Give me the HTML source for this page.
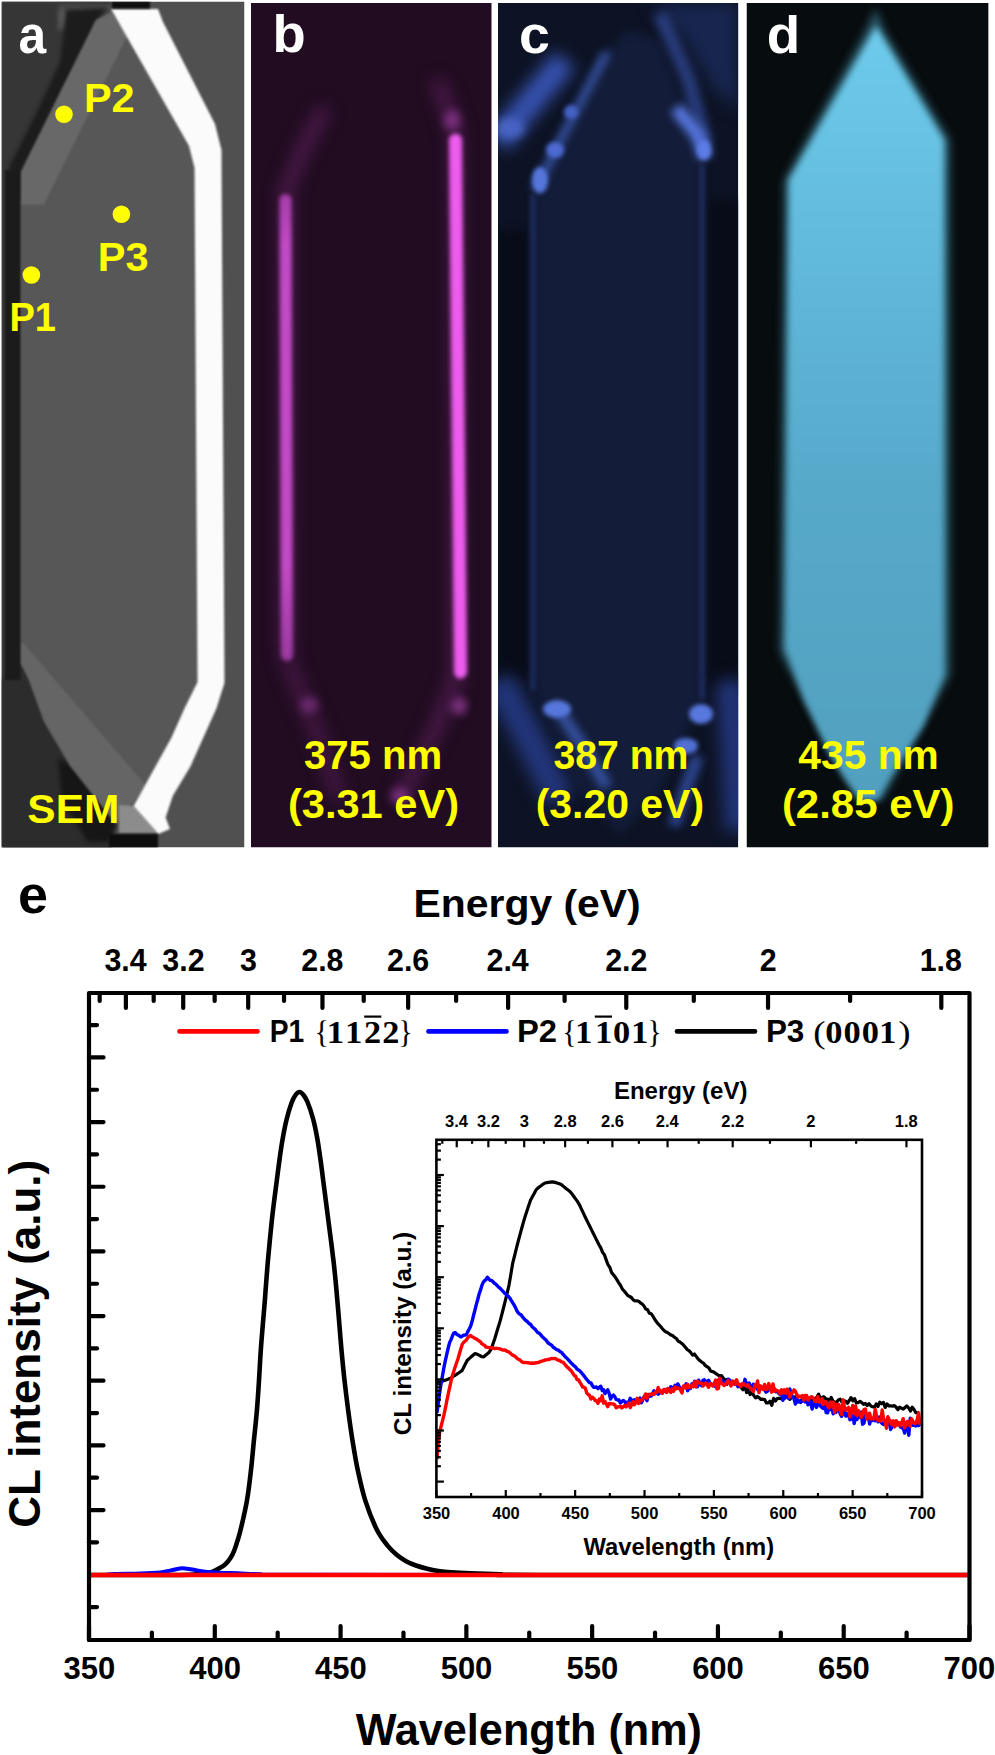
<!DOCTYPE html><html><head><meta charset="utf-8"><style>html,body{margin:0;padding:0;background:#fff;}svg{display:block;}</style></head><body>
<svg width="995" height="1755" viewBox="0 0 995 1755">
<defs>
<filter id="b1" color-interpolation-filters="sRGB" filterUnits="userSpaceOnUse" x="0" y="0" width="995" height="860"><feGaussianBlur stdDeviation="1"/></filter>
<filter id="b2" color-interpolation-filters="sRGB" filterUnits="userSpaceOnUse" x="0" y="0" width="995" height="860"><feGaussianBlur stdDeviation="2"/></filter>
<filter id="b2s" color-interpolation-filters="sRGB" filterUnits="userSpaceOnUse" x="0" y="0" width="995" height="860"><feGaussianBlur stdDeviation="2"/></filter>
<filter id="b3" color-interpolation-filters="sRGB" filterUnits="userSpaceOnUse" x="0" y="0" width="995" height="860"><feGaussianBlur stdDeviation="3"/></filter>
<filter id="b4" color-interpolation-filters="sRGB" filterUnits="userSpaceOnUse" x="0" y="0" width="995" height="860"><feGaussianBlur stdDeviation="4"/></filter>
<filter id="b8" color-interpolation-filters="sRGB" filterUnits="userSpaceOnUse" x="0" y="0" width="995" height="860"><feGaussianBlur stdDeviation="8"/></filter>
<clipPath id="ca"><rect x="1.5" y="1.5" width="243" height="846"/></clipPath>
<clipPath id="cb"><rect x="251" y="3" width="240.7" height="844.5"/></clipPath>
<clipPath id="cc"><rect x="498" y="3" width="240.3" height="844.5"/></clipPath>
<linearGradient id="gd" x1="0" y1="0" x2="0" y2="1"><stop offset="0" stop-color="#6ecbec"/><stop offset="0.3" stop-color="#61b9db"/><stop offset="0.6" stop-color="#57a9ca"/><stop offset="1" stop-color="#52a0c0"/></linearGradient>
<clipPath id="cd"><rect x="746.5" y="3" width="242.1" height="844.5"/></clipPath>
</defs>
<rect width="995" height="1755" fill="#fff"/>
<g clip-path="url(#ca)">
<rect x="1.5" y="1.5" width="243" height="846" fill="#505050"/>
<polygon points="1.5,1.5 112.0,1.5 96.0,20.0 21.0,172.0 21.0,664.0 116.0,824.0 110.0,848.0 1.5,848.0" fill="#363636" filter="url(#b1)"/>
<polygon points="1.5,680.0 21.0,664.0 116.0,824.0 110.0,848.0 1.5,848.0" fill="#2c2c2c" filter="url(#b2)"/>
<polygon points="58.0,4.0 112.0,4.0 110.0,14.0 96.0,22.0 70.0,30.0 58.0,20.0" fill="#4a4a4a" filter="url(#b2)"/>
<polygon points="66.0,10.0 108.0,8.0 96.0,22.0 21.0,172.0 21.0,200.0 8.0,200.0 10.0,165.0 40.0,105.0 60.0,62.0 64.0,30.0" fill="#1c1c1c" filter="url(#b2)"/>
<polyline points="62.0,10.0 60.0,30.0" fill="none" stroke="#5a5a5a" stroke-width="4" filter="url(#b2)"/>
<rect x="5" y="170" width="15.5" height="510" fill="#1b1b1b" filter="url(#b1)"/>
<polygon points="58.0,758.0 72.0,766.0 116.0,824.0 108.0,842.0 88.0,842.0 62.0,800.0" fill="#161616" filter="url(#b2)"/>
<polygon points="128.0,35.0 189.0,146.0 194.5,168.0 197.5,680.0 146.0,785.0 23.0,642.0 21.0,642.0 21.0,205.0 44.0,205.0" fill="#575757" filter="url(#b1)"/>
<polygon points="96.0,20.0 112.0,12.0 128.0,35.0 44.0,205.0 21.0,205.0 21.0,172.0" fill="#686868" filter="url(#b1)"/>
<polygon points="21.0,642.0 23.0,642.0 146.0,785.0 139.0,796.0 116.0,824.0 70.0,766.0 44.0,722.0 28.0,678.0 21.0,664.0" fill="#656565" filter="url(#b1)"/>
<polygon points="119.0,805.0 134.0,806.0 158.0,833.0 119.0,833.0" fill="#8c8c8c" filter="url(#b1)"/>
<polygon points="111.0,9.0 158.0,9.0 163.0,22.0 215.0,124.0 221.5,150.0 224.5,683.0 216.6,708.0 190.4,766.6 172.9,795.7 165.6,817.6 170.0,829.0 158.3,834.0 133.5,806.0 139.3,795.7 171.4,737.4 184.5,708.3 197.5,682.0 194.5,168.0 189.0,146.0" fill="#fbfbfb" filter="url(#b1)"/>
<rect x="112" y="1.5" width="38" height="7" fill="#0e0e0e" filter="url(#b1)"/>
<rect x="109" y="834" width="49" height="14" fill="#0e0e0e" filter="url(#b1)"/>
</g>
<circle cx="64" cy="114.3" r="8.8" fill="#ffff00"/>
<circle cx="121.4" cy="214.3" r="8.8" fill="#ffff00"/>
<circle cx="31.4" cy="275" r="8.8" fill="#ffff00"/>
<text x="18.54" y="52.50" font-family='"Liberation Sans", sans-serif' font-weight="bold" font-size="51" fill="#fff" textLength="27.64" lengthAdjust="spacingAndGlyphs" >a</text>
<text x="83.93" y="112.30" font-family='"Liberation Sans", sans-serif' font-weight="bold" font-size="40" fill="#ffff00" textLength="50.74" lengthAdjust="spacingAndGlyphs" >P2</text>
<text x="97.72" y="271.20" font-family='"Liberation Sans", sans-serif' font-weight="bold" font-size="40" fill="#ffff00" textLength="50.78" lengthAdjust="spacingAndGlyphs" >P3</text>
<text x="9.45" y="331.00" font-family='"Liberation Sans", sans-serif' font-weight="bold" font-size="40" fill="#ffff00" textLength="46.61" lengthAdjust="spacingAndGlyphs" >P1</text>
<text x="27.38" y="823.30" font-family='"Liberation Sans", sans-serif' font-weight="bold" font-size="40" fill="#ffff00" textLength="91.86" lengthAdjust="spacingAndGlyphs" >SEM</text>
<g clip-path="url(#cb)">
<rect x="251" y="3" width="240.7" height="844.5" fill="#210c21"/>
<polyline points="286.0,660.0 286.0,190.0 305.0,145.0 325.0,108.0" fill="none" stroke="#4a1a4a" stroke-width="14" filter="url(#b8)"/>
<polyline points="437.0,80.0 452.0,120.0 456.0,140.0 456.0,680.0 440.0,720.0 400.0,800.0" fill="none" stroke="#4a1a4a" stroke-width="14" filter="url(#b8)"/>
<polyline points="287.0,660.0 320.0,740.0 340.0,800.0" fill="none" stroke="#451845" stroke-width="14" filter="url(#b8)"/>
<linearGradient id="gbl" gradientUnits="userSpaceOnUse" x1="0" y1="190" x2="0" y2="660"><stop offset="0" stop-color="#a43ca8"/><stop offset="0.12" stop-color="#c24ac6"/><stop offset="0.8" stop-color="#c24ac6"/><stop offset="1" stop-color="#9a3aa0"/></linearGradient>
<polyline points="285.5,200.0 287.0,655.0" fill="none" stroke="url(#gbl)" stroke-width="12" stroke-linecap="round" filter="url(#b2s)"/>
<polyline points="455.5,140.0 460.5,672.0" fill="none" stroke="#ee5cee" stroke-width="13" stroke-linecap="round" filter="url(#b2s)"/>
<ellipse cx="309" cy="705" rx="9" ry="8" fill="#6a2a6e" filter="url(#b4)"/>
<ellipse cx="459" cy="706" rx="8" ry="9" fill="#7a307e" filter="url(#b4)"/>
<ellipse cx="400" cy="796" rx="9" ry="8" fill="#7a307e" filter="url(#b4)"/>
<ellipse cx="452" cy="120" rx="8" ry="10" fill="#7a307e" filter="url(#b4)"/>
</g>
<text x="272.42" y="51.70" font-family='"Liberation Sans", sans-serif' font-weight="bold" font-size="51" fill="#fff" textLength="33.21" lengthAdjust="spacingAndGlyphs" >b</text>
<text x="303.88" y="769.00" font-family='"Liberation Sans", sans-serif' font-weight="bold" font-size="40" fill="#ffff00" textLength="138.31" lengthAdjust="spacingAndGlyphs" >375 nm</text>
<text x="287.93" y="818.00" font-family='"Liberation Sans", sans-serif' font-weight="bold" font-size="40" fill="#ffff00" textLength="171.14" lengthAdjust="spacingAndGlyphs" >(3.31 eV)</text>
<g clip-path="url(#cc)">
<rect x="498" y="3" width="240.3" height="844.5" fill="#0d1325"/>
<polygon points="534.0,195.0 600.0,60.0 628.0,30.0 660.0,40.0 702.0,155.0 702.0,700.0 660.0,790.0 620.0,835.0 580.0,790.0 534.0,690.0" fill="#131c38" filter="url(#b4)"/>
<rect x="498" y="230" width="30" height="450" fill="#080c18" filter="url(#b4)"/>
<rect x="709" y="200" width="30" height="490" fill="#080c18" filter="url(#b4)"/>
<polygon points="650.0,3.0 738.0,3.0 738.0,110.0 715.0,90.0 685.0,40.0" fill="#18264f" filter="url(#b8)"/>
<polyline points="533.0,195.0 533.0,690.0" fill="none" stroke="#1c2a58" stroke-width="6" filter="url(#b2s)"/>
<polyline points="702.0,165.0 702.0,700.0" fill="none" stroke="#1c2a58" stroke-width="6" filter="url(#b2s)"/>
<polyline points="498.0,142.0 532.0,100.0 565.0,60.0" fill="none" stroke="#3652b0" stroke-width="26" filter="url(#b8)"/>
<ellipse cx="510" cy="128" rx="14" ry="10" fill="#4864c4" filter="url(#b4)"/>
<polyline points="535.0,190.0 570.0,122.0 607.0,52.0" fill="none" stroke="#34509e" stroke-width="9" filter="url(#b4)"/>
<ellipse cx="540" cy="180" rx="8" ry="13" fill="#5676dc" filter="url(#b2)"/>
<ellipse cx="555" cy="150" rx="9" ry="8" fill="#4c6ad0" filter="url(#b2)"/>
<ellipse cx="571" cy="112" rx="7" ry="7" fill="#4462c4" filter="url(#b2)"/>
<polyline points="660.0,14.0 688.0,78.0 706.0,145.0" fill="none" stroke="#283c7c" stroke-width="14" filter="url(#b4)"/>
<polyline points="676.0,108.0 697.0,134.0 706.0,158.0" fill="none" stroke="#5474da" stroke-width="14" filter="url(#b4)"/>
<ellipse cx="704" cy="150" rx="7" ry="10" fill="#5c7ce6" filter="url(#b2)"/>
<polyline points="498.0,680.0 530.0,740.0 560.0,800.0" fill="none" stroke="#22357a" stroke-width="30" filter="url(#b8)"/>
<polyline points="560.0,712.0 585.0,750.0 607.0,787.0" fill="none" stroke="#34509e" stroke-width="12" filter="url(#b4)"/>
<polyline points="730.0,680.0 735.0,760.0 738.0,830.0" fill="none" stroke="#22357a" stroke-width="26" filter="url(#b8)"/>
<polyline points="698.0,756.0 685.0,790.0 674.0,826.0" fill="none" stroke="#2c4590" stroke-width="12" filter="url(#b4)"/>
<ellipse cx="557" cy="709" rx="14" ry="9" fill="#5676dc" filter="url(#b2)"/>
<ellipse cx="701" cy="714" rx="12" ry="10" fill="#5878e0" filter="url(#b2)"/>
<ellipse cx="686" cy="746" rx="12" ry="8" fill="#5070d4" filter="url(#b2)"/>
</g>
<text x="519.13" y="53.00" font-family='"Liberation Sans", sans-serif' font-weight="bold" font-size="51" fill="#fff" textLength="30.90" lengthAdjust="spacingAndGlyphs" >c</text>
<text x="553.40" y="769.00" font-family='"Liberation Sans", sans-serif' font-weight="bold" font-size="40" fill="#ffff00" textLength="135.03" lengthAdjust="spacingAndGlyphs" >387 nm</text>
<text x="535.66" y="818.00" font-family='"Liberation Sans", sans-serif' font-weight="bold" font-size="40" fill="#ffff00" textLength="168.38" lengthAdjust="spacingAndGlyphs" >(3.20 eV)</text>
<g clip-path="url(#cd)">
<rect x="746.5" y="3" width="242.1" height="844.5" fill="#070c0e"/>
<polygon points="876.0,8.0 884.0,30.0 950.0,140.0 950.0,675.0 882.0,800.0 858.0,800.0 780.0,652.0 784.0,180.0 866.0,30.0" fill="#2a5868" filter="url(#b4)"/>
<polygon points="876.0,26.0 944.0,140.0 944.0,675.0 923.0,726.0 891.0,776.0 878.0,800.0 860.0,800.0 843.0,776.0 828.0,751.0 804.0,700.0 785.0,648.0 789.0,180.0" fill="url(#gd)" filter="url(#b3)"/>
</g>
<text x="766.75" y="52.60" font-family='"Liberation Sans", sans-serif' font-weight="bold" font-size="51" fill="#fff" textLength="33.46" lengthAdjust="spacingAndGlyphs" >d</text>
<text x="798.38" y="769.00" font-family='"Liberation Sans", sans-serif' font-weight="bold" font-size="40" fill="#ffff00" textLength="140.34" lengthAdjust="spacingAndGlyphs" >435 nm</text>
<text x="781.91" y="818.00" font-family='"Liberation Sans", sans-serif' font-weight="bold" font-size="40" fill="#ffff00" textLength="172.48" lengthAdjust="spacingAndGlyphs" >(2.85 eV)</text>
<clipPath id="cm"><rect x="89" y="993" width="880.5" height="647"/></clipPath>
<g clip-path="url(#cm)">
<path d="M89.00,1575.00 C99.17,1575.00 133.17,1575.03 150.00,1575.00 C166.83,1574.97 181.00,1575.03 190.00,1574.80 C199.00,1574.57 200.33,1574.10 204.00,1573.60 C207.67,1573.10 209.47,1572.70 212.00,1571.80 C214.53,1570.90 217.12,1569.33 219.20,1568.20 C221.28,1567.07 223.00,1566.17 224.50,1565.00 C226.00,1563.83 226.87,1562.95 228.20,1561.20 C229.53,1559.45 231.23,1557.02 232.50,1554.50 C233.77,1551.98 234.50,1550.02 235.80,1546.10 C237.10,1542.18 238.45,1538.53 240.30,1531.00 C242.15,1523.47 245.13,1510.93 246.90,1500.90 C248.67,1490.87 249.73,1480.85 250.90,1470.80 C252.07,1460.75 252.90,1450.65 253.90,1440.60 C254.90,1430.55 256.05,1420.55 256.90,1410.50 C257.75,1400.45 258.35,1390.35 259.00,1380.30 C259.65,1370.25 260.10,1360.25 260.80,1350.20 C261.50,1340.15 262.53,1328.20 263.20,1320.00 C263.87,1311.80 264.28,1307.50 264.80,1301.00 C265.32,1294.50 265.78,1287.68 266.30,1281.00 C266.82,1274.32 267.32,1267.60 267.90,1260.90 C268.48,1254.20 269.15,1247.50 269.80,1240.80 C270.45,1234.10 271.07,1227.40 271.80,1220.70 C272.53,1214.00 273.37,1207.30 274.20,1200.60 C275.03,1193.90 275.93,1187.20 276.80,1180.50 C277.67,1173.80 278.47,1167.10 279.40,1160.40 C280.33,1153.70 281.23,1147.00 282.40,1140.30 C283.57,1133.60 284.88,1126.42 286.40,1120.20 C287.92,1113.98 289.98,1107.20 291.50,1103.00 C293.02,1098.80 294.17,1096.83 295.50,1095.00 C296.83,1093.17 298.17,1092.00 299.50,1092.00 C300.83,1092.00 302.17,1093.33 303.50,1095.00 C304.83,1096.67 305.92,1098.08 307.50,1102.00 C309.08,1105.92 311.38,1112.50 313.00,1118.50 C314.62,1124.50 315.93,1131.02 317.20,1138.00 C318.47,1144.98 319.60,1153.32 320.60,1160.40 C321.60,1167.48 322.33,1173.80 323.20,1180.50 C324.07,1187.20 324.93,1193.90 325.80,1200.60 C326.67,1207.30 327.53,1214.00 328.40,1220.70 C329.27,1227.40 330.15,1234.10 331.00,1240.80 C331.85,1247.50 332.73,1254.20 333.50,1260.90 C334.27,1267.60 334.95,1274.32 335.60,1281.00 C336.25,1287.68 336.83,1294.50 337.40,1301.00 C337.97,1307.50 338.32,1311.80 339.00,1320.00 C339.68,1328.20 340.58,1340.15 341.50,1350.20 C342.42,1360.25 343.38,1370.25 344.50,1380.30 C345.62,1390.35 346.87,1400.45 348.20,1410.50 C349.53,1420.55 350.88,1430.55 352.50,1440.60 C354.12,1450.65 355.75,1460.75 357.90,1470.80 C360.05,1480.85 362.22,1491.03 365.40,1500.90 C368.58,1510.77 373.23,1522.47 377.00,1530.00 C380.77,1537.53 384.67,1541.93 388.00,1546.10 C391.33,1550.27 393.98,1552.48 397.00,1555.00 C400.02,1557.52 402.93,1559.45 406.10,1561.20 C409.27,1562.95 412.48,1564.25 416.00,1565.50 C419.52,1566.75 423.20,1567.75 427.20,1568.70 C431.20,1569.65 435.97,1570.60 440.00,1571.20 C444.03,1571.80 446.40,1571.95 451.40,1572.30 C456.40,1572.65 461.90,1572.97 470.00,1573.30 C478.10,1573.63 488.33,1574.02 500.00,1574.30 C511.67,1574.58 461.75,1574.88 540.00,1575.00 C618.25,1575.12 897.92,1575.00 969.50,1575.00" fill="none" stroke="#000" stroke-width="4.6" stroke-linejoin="round"/>
<path d="M89.00,1575.00 C91.67,1575.00 100.67,1575.17 105.00,1575.00 C109.33,1574.83 109.17,1574.25 115.00,1574.00 C120.83,1573.75 132.50,1573.77 140.00,1573.50 C147.50,1573.23 155.00,1572.88 160.00,1572.40 C165.00,1571.92 166.42,1571.28 170.00,1570.60 C173.58,1569.92 177.83,1568.47 181.50,1568.30 C185.17,1568.13 188.08,1569.02 192.00,1569.60 C195.92,1570.18 200.33,1571.27 205.00,1571.80 C209.67,1572.33 214.50,1572.55 220.00,1572.80 C225.50,1573.05 231.33,1573.07 238.00,1573.30 C244.67,1573.53 249.67,1573.95 260.00,1574.20 C270.33,1574.45 181.75,1574.67 300.00,1574.80 C418.25,1574.93 857.92,1574.97 969.50,1575.00" fill="none" stroke="#0000ff" stroke-width="4" stroke-linejoin="round"/>
<line x1="89" y1="1575" x2="969.5" y2="1575" stroke="#ff0000" stroke-width="4.6"/>
</g>
<rect x="89.0" y="993.0" width="880.5" height="647.0" fill="none" stroke="#000" stroke-width="4.2" stroke-linejoin="round"/>
<g stroke="#000" stroke-width="4.2" stroke-linecap="round">
<line x1="89.00" y1="1640.00" x2="89.00" y2="1626.00"/>
<line x1="151.89" y1="1640.00" x2="151.89" y2="1632.50"/>
<line x1="214.79" y1="1640.00" x2="214.79" y2="1626.00"/>
<line x1="277.68" y1="1640.00" x2="277.68" y2="1632.50"/>
<line x1="340.57" y1="1640.00" x2="340.57" y2="1626.00"/>
<line x1="403.46" y1="1640.00" x2="403.46" y2="1632.50"/>
<line x1="466.36" y1="1640.00" x2="466.36" y2="1626.00"/>
<line x1="529.25" y1="1640.00" x2="529.25" y2="1632.50"/>
<line x1="592.14" y1="1640.00" x2="592.14" y2="1626.00"/>
<line x1="655.04" y1="1640.00" x2="655.04" y2="1632.50"/>
<line x1="717.93" y1="1640.00" x2="717.93" y2="1626.00"/>
<line x1="780.82" y1="1640.00" x2="780.82" y2="1632.50"/>
<line x1="843.71" y1="1640.00" x2="843.71" y2="1626.00"/>
<line x1="906.61" y1="1640.00" x2="906.61" y2="1632.50"/>
<line x1="969.50" y1="1640.00" x2="969.50" y2="1626.00"/>
<line x1="941.32" y1="993.00" x2="941.32" y2="1008.00"/>
<line x1="850.12" y1="993.00" x2="850.12" y2="1001.00"/>
<line x1="768.04" y1="993.00" x2="768.04" y2="1008.00"/>
<line x1="693.78" y1="993.00" x2="693.78" y2="1001.00"/>
<line x1="626.27" y1="993.00" x2="626.27" y2="1008.00"/>
<line x1="564.62" y1="993.00" x2="564.62" y2="1001.00"/>
<line x1="508.12" y1="993.00" x2="508.12" y2="1008.00"/>
<line x1="456.13" y1="993.00" x2="456.13" y2="1001.00"/>
<line x1="408.15" y1="993.00" x2="408.15" y2="1008.00"/>
<line x1="363.72" y1="993.00" x2="363.72" y2="1001.00"/>
<line x1="322.46" y1="993.00" x2="322.46" y2="1008.00"/>
<line x1="284.05" y1="993.00" x2="284.05" y2="1001.00"/>
<line x1="248.19" y1="993.00" x2="248.19" y2="1008.00"/>
<line x1="214.66" y1="993.00" x2="214.66" y2="1001.00"/>
<line x1="183.21" y1="993.00" x2="183.21" y2="1008.00"/>
<line x1="153.68" y1="993.00" x2="153.68" y2="1001.00"/>
<line x1="125.88" y1="993.00" x2="125.88" y2="1008.00"/>
<line x1="99.67" y1="993.00" x2="99.67" y2="1001.00"/>
<line x1="89.00" y1="1607.03" x2="97.00" y2="1607.03"/>
<line x1="89.00" y1="1542.37" x2="97.00" y2="1542.37"/>
<line x1="89.00" y1="1510.04" x2="103.50" y2="1510.04"/>
<line x1="89.00" y1="1477.71" x2="97.00" y2="1477.71"/>
<line x1="89.00" y1="1445.38" x2="103.50" y2="1445.38"/>
<line x1="89.00" y1="1413.05" x2="97.00" y2="1413.05"/>
<line x1="89.00" y1="1380.72" x2="103.50" y2="1380.72"/>
<line x1="89.00" y1="1348.39" x2="97.00" y2="1348.39"/>
<line x1="89.00" y1="1316.06" x2="103.50" y2="1316.06"/>
<line x1="89.00" y1="1283.73" x2="97.00" y2="1283.73"/>
<line x1="89.00" y1="1251.40" x2="103.50" y2="1251.40"/>
<line x1="89.00" y1="1219.07" x2="97.00" y2="1219.07"/>
<line x1="89.00" y1="1186.74" x2="103.50" y2="1186.74"/>
<line x1="89.00" y1="1154.41" x2="97.00" y2="1154.41"/>
<line x1="89.00" y1="1122.08" x2="103.50" y2="1122.08"/>
<line x1="89.00" y1="1089.75" x2="97.00" y2="1089.75"/>
<line x1="89.00" y1="1057.42" x2="103.50" y2="1057.42"/>
<line x1="89.00" y1="1025.09" x2="97.00" y2="1025.09"/>
</g>
<text x="63.42" y="1679.40" font-family='"Liberation Sans", sans-serif' font-weight="bold" font-size="31" fill="#000" textLength="51.72" lengthAdjust="spacingAndGlyphs" >350</text>
<text x="189.33" y="1679.40" font-family='"Liberation Sans", sans-serif' font-weight="bold" font-size="31" fill="#000" textLength="51.72" lengthAdjust="spacingAndGlyphs" >400</text>
<text x="315.11" y="1679.40" font-family='"Liberation Sans", sans-serif' font-weight="bold" font-size="31" fill="#000" textLength="51.72" lengthAdjust="spacingAndGlyphs" >450</text>
<text x="440.65" y="1679.40" font-family='"Liberation Sans", sans-serif' font-weight="bold" font-size="31" fill="#000" textLength="51.72" lengthAdjust="spacingAndGlyphs" >500</text>
<text x="566.44" y="1679.40" font-family='"Liberation Sans", sans-serif' font-weight="bold" font-size="31" fill="#000" textLength="51.72" lengthAdjust="spacingAndGlyphs" >550</text>
<text x="692.14" y="1679.40" font-family='"Liberation Sans", sans-serif' font-weight="bold" font-size="31" fill="#000" textLength="51.72" lengthAdjust="spacingAndGlyphs" >600</text>
<text x="817.92" y="1679.40" font-family='"Liberation Sans", sans-serif' font-weight="bold" font-size="31" fill="#000" textLength="51.72" lengthAdjust="spacingAndGlyphs" >650</text>
<text x="943.61" y="1679.40" font-family='"Liberation Sans", sans-serif' font-weight="bold" font-size="31" fill="#000" textLength="51.72" lengthAdjust="spacingAndGlyphs" >700</text>
<text x="104.49" y="971.20" font-family='"Liberation Sans", sans-serif' font-weight="bold" font-size="31" fill="#000" textLength="42.23" lengthAdjust="spacingAndGlyphs" >3.4</text>
<text x="162.36" y="971.20" font-family='"Liberation Sans", sans-serif' font-weight="bold" font-size="31" fill="#000" textLength="42.23" lengthAdjust="spacingAndGlyphs" >3.2</text>
<text x="239.95" y="971.20" font-family='"Liberation Sans", sans-serif' font-weight="bold" font-size="31" fill="#000" textLength="16.90" lengthAdjust="spacingAndGlyphs" >3</text>
<text x="301.28" y="971.20" font-family='"Liberation Sans", sans-serif' font-weight="bold" font-size="31" fill="#000" textLength="42.23" lengthAdjust="spacingAndGlyphs" >2.8</text>
<text x="387.05" y="971.20" font-family='"Liberation Sans", sans-serif' font-weight="bold" font-size="31" fill="#000" textLength="42.23" lengthAdjust="spacingAndGlyphs" >2.6</text>
<text x="486.56" y="971.20" font-family='"Liberation Sans", sans-serif' font-weight="bold" font-size="31" fill="#000" textLength="42.23" lengthAdjust="spacingAndGlyphs" >2.4</text>
<text x="605.23" y="971.20" font-family='"Liberation Sans", sans-serif' font-weight="bold" font-size="31" fill="#000" textLength="42.23" lengthAdjust="spacingAndGlyphs" >2.2</text>
<text x="759.68" y="971.20" font-family='"Liberation Sans", sans-serif' font-weight="bold" font-size="31" fill="#000" textLength="16.90" lengthAdjust="spacingAndGlyphs" >2</text>
<text x="919.72" y="971.20" font-family='"Liberation Sans", sans-serif' font-weight="bold" font-size="31" fill="#000" textLength="42.23" lengthAdjust="spacingAndGlyphs" >1.8</text>
<text x="17.90" y="912.50" font-family='"Liberation Sans", sans-serif' font-weight="bold" font-size="51" fill="#000" textLength="29.94" lengthAdjust="spacingAndGlyphs" >e</text>
<text x="413.57" y="916.50" font-family='"Liberation Sans", sans-serif' font-weight="bold" font-size="39.5" fill="#000" textLength="227.17" lengthAdjust="spacingAndGlyphs" >Energy (eV)</text>
<text x="355.66" y="1745.00" font-family='"Liberation Sans", sans-serif' font-weight="bold" font-size="43.5" fill="#000" textLength="346.28" lengthAdjust="spacingAndGlyphs" >Wavelength (nm)</text>
<g transform="translate(40,0) rotate(-90)">
<text x="-1527.80" y="0.00" font-family='"Liberation Sans", sans-serif' font-weight="bold" font-size="44" fill="#000" textLength="367.98" lengthAdjust="spacingAndGlyphs" >CL intensity (a.u.)</text>
</g>
<g stroke-width="4.6" stroke-linecap="round">
<line x1="179.5" y1="1031.4" x2="257.5" y2="1031.4" stroke="#ff0000"/>
<line x1="428.5" y1="1031.4" x2="506.5" y2="1031.4" stroke="#0000ff"/>
<line x1="677" y1="1031.4" x2="755" y2="1031.4" stroke="#000"/>
</g>
<text x="269.71" y="1042.20" font-family='"Liberation Sans", sans-serif' font-weight="bold" font-size="31.5" fill="#000" textLength="34.47" lengthAdjust="spacingAndGlyphs" >P1</text>
<text x="517.01" y="1042.20" font-family='"Liberation Sans", sans-serif' font-weight="bold" font-size="31.5" fill="#000" textLength="40.00" lengthAdjust="spacingAndGlyphs" >P2</text>
<text x="765.90" y="1042.20" font-family='"Liberation Sans", sans-serif' font-weight="bold" font-size="31.5" fill="#000" textLength="38.44" lengthAdjust="spacingAndGlyphs" >P3</text>
<text x="314.56" y="1042.50" font-family='"Liberation Serif", serif' font-weight="normal" font-size="32" fill="#000" textLength="14.48" lengthAdjust="spacingAndGlyphs" >{</text>
<text x="326.82" y="1042.50" font-family='"Liberation Serif", serif' font-weight="bold" font-size="31" fill="#000" textLength="17.38" lengthAdjust="spacingAndGlyphs" >1</text>
<text x="345.02" y="1042.50" font-family='"Liberation Serif", serif' font-weight="bold" font-size="31" fill="#000" textLength="17.38" lengthAdjust="spacingAndGlyphs" >1</text>
<text x="363.96" y="1042.50" font-family='"Liberation Serif", serif' font-weight="bold" font-size="31" fill="#000" textLength="17.11" lengthAdjust="spacingAndGlyphs" >2</text>
<text x="382.16" y="1042.50" font-family='"Liberation Serif", serif' font-weight="bold" font-size="31" fill="#000" textLength="17.11" lengthAdjust="spacingAndGlyphs" >2</text>
<text x="398.36" y="1042.50" font-family='"Liberation Serif", serif' font-weight="normal" font-size="32" fill="#000" textLength="14.48" lengthAdjust="spacingAndGlyphs" >}</text>
<text x="562.36" y="1042.50" font-family='"Liberation Serif", serif' font-weight="normal" font-size="32" fill="#000" textLength="14.48" lengthAdjust="spacingAndGlyphs" >{</text>
<text x="575.12" y="1042.50" font-family='"Liberation Serif", serif' font-weight="bold" font-size="31" fill="#000" textLength="17.38" lengthAdjust="spacingAndGlyphs" >1</text>
<text x="595.02" y="1042.50" font-family='"Liberation Serif", serif' font-weight="bold" font-size="31" fill="#000" textLength="17.38" lengthAdjust="spacingAndGlyphs" >1</text>
<text x="612.99" y="1042.50" font-family='"Liberation Serif", serif' font-weight="bold" font-size="31" fill="#000" textLength="17.22" lengthAdjust="spacingAndGlyphs" >0</text>
<text x="631.02" y="1042.50" font-family='"Liberation Serif", serif' font-weight="bold" font-size="31" fill="#000" textLength="17.38" lengthAdjust="spacingAndGlyphs" >1</text>
<text x="647.26" y="1042.50" font-family='"Liberation Serif", serif' font-weight="normal" font-size="32" fill="#000" textLength="14.48" lengthAdjust="spacingAndGlyphs" >}</text>
<text x="813.22" y="1042.50" font-family='"Liberation Serif", serif' font-weight="normal" font-size="32" fill="#000" textLength="12.32" lengthAdjust="spacingAndGlyphs" >(</text>
<text x="825.39" y="1042.50" font-family='"Liberation Serif", serif' font-weight="bold" font-size="31" fill="#000" textLength="17.22" lengthAdjust="spacingAndGlyphs" >0</text>
<text x="843.59" y="1042.50" font-family='"Liberation Serif", serif' font-weight="bold" font-size="31" fill="#000" textLength="17.22" lengthAdjust="spacingAndGlyphs" >0</text>
<text x="861.89" y="1042.50" font-family='"Liberation Serif", serif' font-weight="bold" font-size="31" fill="#000" textLength="17.22" lengthAdjust="spacingAndGlyphs" >0</text>
<text x="878.92" y="1042.50" font-family='"Liberation Serif", serif' font-weight="bold" font-size="31" fill="#000" textLength="17.38" lengthAdjust="spacingAndGlyphs" >1</text>
<text x="898.26" y="1042.50" font-family='"Liberation Serif", serif' font-weight="normal" font-size="32" fill="#000" textLength="12.32" lengthAdjust="spacingAndGlyphs" >)</text>
<g stroke="#000" stroke-width="2.2">
<line x1="364.2" y1="1016.6" x2="381.3" y2="1016.6"/>
<line x1="594.8" y1="1016.6" x2="612" y2="1016.6"/>
</g>
<clipPath id="ci"><rect x="436.4" y="1139.8" width="485.6" height="357.2"/></clipPath>
<g clip-path="url(#ci)" fill="none" stroke-linejoin="round">
<polyline points="437.0,1382.4 438.8,1382.0 440.6,1381.7 442.4,1381.3 444.2,1380.6 446.0,1379.9 447.8,1379.3 449.6,1378.6 451.4,1377.6 453.2,1376.5 455.0,1375.3 456.8,1374.2 458.6,1373.0 460.4,1371.7 462.2,1370.4 464.0,1366.8 465.8,1363.1 467.6,1359.9 469.4,1358.4 471.2,1356.8 473.0,1355.2 474.8,1353.6 476.6,1354.0 478.4,1354.9 480.2,1355.8 482.0,1356.7 483.8,1356.9 485.6,1355.3 487.4,1353.8 489.2,1352.2 491.0,1349.4 492.8,1344.4 494.6,1339.2 496.4,1333.3 498.2,1327.3 500.0,1321.4 501.8,1314.6 503.6,1307.5 505.4,1300.4 507.2,1292.8 509.0,1285.1 510.8,1274.7 512.6,1263.7 514.4,1256.5 516.2,1249.2 518.0,1242.0 519.8,1235.3 521.6,1228.8 523.4,1222.3 525.2,1216.2 527.0,1210.8 528.8,1205.3 530.6,1200.0 532.4,1196.7 534.2,1193.4 536.0,1190.0 537.8,1188.1 539.6,1186.8 541.4,1185.5 543.2,1184.1 545.0,1183.0 546.8,1182.7 548.6,1182.4 550.4,1182.1 552.2,1181.8 554.0,1182.1 555.8,1182.6 557.6,1183.2 559.4,1183.7 561.2,1184.5 563.0,1186.0 564.8,1187.4 566.6,1188.9 568.4,1190.3 570.2,1191.8 572.0,1194.0 573.8,1196.5 575.6,1198.9 577.4,1201.4 579.2,1204.3 581.0,1208.1 582.8,1211.9 584.6,1215.7 586.4,1219.5 588.2,1223.1 590.0,1226.7 591.8,1230.4 593.6,1234.0 595.4,1237.6 597.2,1241.2 599.0,1244.7 600.8,1247.9 602.6,1252.4 604.4,1254.8 606.2,1259.9 608.0,1264.7 609.8,1267.3 611.6,1272.6 613.4,1274.7 615.2,1277.0 617.0,1279.9 618.8,1282.8 620.6,1285.5 622.4,1289.1 624.2,1291.0 626.0,1293.3 627.8,1295.6 629.6,1296.5 631.4,1297.5 633.2,1299.8 635.0,1301.0 636.8,1300.8 638.6,1301.2 640.4,1302.8 642.2,1304.0 644.0,1306.0 645.8,1309.1 647.6,1309.7 649.4,1313.2 651.2,1313.7 653.0,1316.3 654.8,1319.4 656.6,1322.0 658.4,1324.1 660.2,1326.0 662.0,1328.2 663.8,1330.3 665.6,1331.7 667.4,1332.4 669.2,1333.8 671.0,1335.1 672.8,1335.8 674.6,1337.4 676.4,1338.5 678.2,1341.2 680.0,1342.0 681.8,1343.4 683.6,1345.2 685.4,1347.3 687.2,1349.6 689.0,1350.6 690.8,1352.6 692.6,1355.1 694.4,1354.0 696.2,1356.4 698.0,1358.8 699.8,1360.5 701.6,1362.0 703.4,1363.1 705.2,1365.4 707.0,1366.7 708.8,1367.8 710.6,1371.1 712.4,1371.5 714.2,1372.3 716.0,1373.7 717.8,1374.8 719.6,1376.0 721.4,1375.5 723.2,1378.0 725.0,1380.0 726.8,1379.6 728.6,1381.0 730.4,1382.2 732.2,1382.8 734.0,1383.9 735.8,1382.6 737.6,1384.1 739.4,1385.1 741.2,1387.7 743.0,1389.8 744.8,1385.1 746.6,1392.5 748.4,1389.8 750.2,1394.6 752.0,1392.1 753.8,1395.5 755.6,1397.9 757.4,1396.5 759.2,1397.8 761.0,1399.5 762.8,1399.2 764.6,1399.6 766.4,1403.0 768.2,1402.9 770.0,1401.1 771.8,1405.3 773.6,1398.4 775.4,1401.0 777.2,1398.5 779.0,1398.4 780.8,1398.7 782.6,1397.6 784.4,1398.5 786.2,1395.4 788.0,1395.7 789.8,1399.4 791.6,1397.2 793.4,1397.3 795.2,1396.9 797.0,1401.6 798.8,1401.1 800.6,1402.5 802.4,1398.4 804.2,1399.6 806.0,1397.5 807.8,1400.2 809.6,1401.3 811.4,1397.0 813.2,1400.6 815.0,1399.4 816.8,1397.2 818.6,1394.1 820.4,1399.5 822.2,1397.4 824.0,1396.9 825.8,1398.8 827.6,1399.1 829.4,1401.2 831.2,1397.4 833.0,1401.2 834.8,1402.0 836.6,1402.3 838.4,1399.9 840.2,1399.2 842.0,1402.2 843.8,1400.9 845.6,1401.0 847.4,1403.3 849.2,1400.7 851.0,1397.6 852.8,1400.8 854.6,1398.6 856.4,1403.1 858.2,1402.5 860.0,1401.4 861.8,1402.6 863.6,1404.3 865.4,1403.4 867.2,1405.6 869.0,1403.7 870.8,1405.8 872.6,1406.8 874.4,1407.3 876.2,1403.9 878.0,1406.5 879.8,1402.2 881.6,1403.7 883.4,1402.4 885.2,1407.4 887.0,1403.9 888.8,1405.9 890.6,1405.8 892.4,1406.2 894.2,1405.5 896.0,1407.0 897.8,1409.7 899.6,1407.2 901.4,1408.2 903.2,1409.2 905.0,1407.5 906.8,1406.0 908.6,1407.8 910.4,1411.0 912.2,1407.2 914.0,1409.5 915.8,1412.6 917.6,1412.9 919.4,1412.2" stroke="#000" stroke-width="3.2"/>
<polyline points="437.0,1412.8 438.4,1402.3 439.8,1391.7 441.2,1383.0 442.6,1375.0 444.0,1367.1 445.4,1360.4 446.8,1354.1 448.2,1348.0 449.6,1342.6 451.0,1339.6 452.4,1336.0 453.8,1333.0 455.2,1332.5 456.6,1334.2 458.0,1335.0 459.4,1335.8 460.8,1336.9 462.2,1336.2 463.6,1335.2 465.0,1335.1 466.4,1334.6 467.8,1331.6 469.2,1329.0 470.6,1326.2 472.0,1321.8 473.4,1316.0 474.8,1310.7 476.2,1304.9 477.6,1300.0 479.0,1294.5 480.4,1290.4 481.8,1285.7 483.2,1282.4 484.6,1280.7 486.0,1279.6 487.4,1277.2 488.8,1278.8 490.2,1280.3 491.6,1280.4 493.0,1281.8 494.4,1283.2 495.8,1284.1 497.2,1285.6 498.6,1287.1 500.0,1288.1 501.4,1289.7 502.8,1291.2 504.2,1292.7 505.6,1293.9 507.0,1295.3 508.4,1296.4 509.8,1298.0 511.2,1300.3 512.6,1302.6 514.0,1304.8 515.4,1307.3 516.8,1310.6 518.2,1312.7 519.6,1314.1 521.0,1314.7 522.4,1316.9 523.8,1318.3 525.2,1320.0 526.6,1321.0 528.0,1322.3 529.4,1323.8 530.8,1324.6 532.2,1326.8 533.6,1328.0 535.0,1329.1 536.4,1331.0 537.8,1332.6 539.2,1333.1 540.6,1334.7 542.0,1336.4 543.4,1337.7 544.8,1339.0 546.2,1340.3 547.6,1342.4 549.0,1343.6 550.4,1344.4 551.8,1345.4 553.2,1347.2 554.6,1348.0 556.0,1349.2 557.4,1349.9 558.8,1350.4 560.2,1351.7 561.6,1352.4 563.0,1354.2 564.4,1355.8 565.8,1357.4 567.2,1358.5 568.6,1360.1 570.0,1361.7 571.4,1363.1 572.8,1364.6 574.2,1365.9 575.6,1367.0 577.0,1369.1 578.4,1370.0 579.8,1370.8 581.2,1372.3 582.6,1374.2 584.0,1375.8 585.4,1377.8 586.8,1379.4 588.2,1381.3 589.6,1382.7 591.0,1383.0 592.4,1385.7 593.8,1387.3 595.2,1387.2 596.6,1387.0 598.0,1388.7 599.4,1387.1 600.8,1386.2 602.2,1390.4 603.6,1389.8 605.0,1393.6 606.4,1391.5 607.8,1389.8 609.2,1393.5 610.6,1399.0 612.0,1396.3 613.4,1395.1 614.8,1396.7 616.2,1399.5 617.6,1400.0 619.0,1400.0 620.4,1402.9 621.8,1401.7 623.2,1400.4 624.6,1401.5 626.0,1403.4 627.4,1402.1 628.8,1402.2 630.2,1398.3 631.6,1400.0 633.0,1401.6 634.4,1399.7 635.8,1402.1 637.2,1400.7 638.6,1400.7 640.0,1398.0 641.4,1402.8 642.8,1399.7 644.2,1396.4 645.6,1396.4 647.0,1400.7 648.4,1394.4 649.8,1396.3 651.2,1395.9 652.6,1393.6 654.0,1390.8 655.4,1393.1 656.8,1393.0 658.2,1394.2 659.6,1393.0 661.0,1391.1 662.4,1392.3 663.8,1391.3 665.2,1390.2 666.6,1389.4 668.0,1388.7 669.4,1390.5 670.8,1386.7 672.2,1387.4 673.6,1388.6 675.0,1385.3 676.4,1387.4 677.8,1383.9 679.2,1386.6 680.6,1389.1 682.0,1389.0 683.4,1387.4 684.8,1386.7 686.2,1383.8 687.6,1390.7 689.0,1387.5 690.4,1388.5 691.8,1383.9 693.2,1385.1 694.6,1381.2 696.0,1386.7 697.4,1386.8 698.8,1380.2 700.2,1384.3 701.6,1385.7 703.0,1380.1 704.4,1379.8 705.8,1381.4 707.2,1382.2 708.6,1380.3 710.0,1383.5 711.4,1383.9 712.8,1384.7 714.2,1384.8 715.6,1386.7 717.0,1385.9 718.4,1380.0 719.8,1381.9 721.2,1380.5 722.6,1380.5 724.0,1382.9 725.4,1383.1 726.8,1384.3 728.2,1379.2 729.6,1380.2 731.0,1383.4 732.4,1383.3 733.8,1383.3 735.2,1384.2 736.6,1382.7 738.0,1386.7 739.4,1386.1 740.8,1385.2 742.2,1384.0 743.6,1385.6 745.0,1379.3 746.4,1384.0 747.8,1386.9 749.2,1383.1 750.6,1387.8 752.0,1387.9 753.4,1384.2 754.8,1387.4 756.2,1387.5 757.6,1389.7 759.0,1390.4 760.4,1388.9 761.8,1387.0 763.2,1389.2 764.6,1389.7 766.0,1392.1 767.4,1391.2 768.8,1388.7 770.2,1387.2 771.6,1390.2 773.0,1389.4 774.4,1388.7 775.8,1391.7 777.2,1391.0 778.6,1393.0 780.0,1394.5 781.4,1392.3 782.8,1400.3 784.2,1393.3 785.6,1397.6 787.0,1395.2 788.4,1398.4 789.8,1388.9 791.2,1393.8 792.6,1397.1 794.0,1398.6 795.4,1404.0 796.8,1398.7 798.2,1401.9 799.6,1400.9 801.0,1401.9 802.4,1401.0 803.8,1399.5 805.2,1401.9 806.6,1397.7 808.0,1404.8 809.4,1398.8 810.8,1403.0 812.2,1409.0 813.6,1402.5 815.0,1403.7 816.4,1407.5 817.8,1404.6 819.2,1402.5 820.6,1406.2 822.0,1407.6 823.4,1408.5 824.8,1404.4 826.2,1412.6 827.6,1412.8 829.0,1408.1 830.4,1409.4 831.8,1407.7 833.2,1413.8 834.6,1407.7 836.0,1412.4 837.4,1409.3 838.8,1409.0 840.2,1413.9 841.6,1416.3 843.0,1412.5 844.4,1410.9 845.8,1416.1 847.2,1413.8 848.6,1415.4 850.0,1419.7 851.4,1418.9 852.8,1414.0 854.2,1423.5 855.6,1416.5 857.0,1419.4 858.4,1415.1 859.8,1417.4 861.2,1412.2 862.6,1424.2 864.0,1423.2 865.4,1415.0 866.8,1414.4 868.2,1414.3 869.6,1424.0 871.0,1418.8 872.4,1420.4 873.8,1419.8 875.2,1420.7 876.6,1417.7 878.0,1421.8 879.4,1417.1 880.8,1422.0 882.2,1423.6 883.6,1424.4 885.0,1422.2 886.4,1420.2 887.8,1424.1 889.2,1422.2 890.6,1429.5 892.0,1427.1 893.4,1424.3 894.8,1423.3 896.2,1422.7 897.6,1422.2 899.0,1424.5 900.4,1427.0 901.8,1427.7 903.2,1427.7 904.6,1433.1 906.0,1422.9 907.4,1425.4 908.8,1435.2 910.2,1418.3 911.6,1423.0 913.0,1425.4 914.4,1425.2 915.8,1426.0 917.2,1423.5 918.6,1425.6 920.0,1424.3" stroke="#0000ff" stroke-width="3.4"/>
<polyline points="437.0,1459.0 438.4,1441.5 439.8,1431.3 441.2,1426.0 442.6,1420.3 444.0,1414.7 445.4,1408.2 446.8,1400.9 448.2,1394.2 449.6,1387.9 451.0,1381.5 452.4,1375.6 453.8,1371.2 455.2,1366.7 456.6,1362.8 458.0,1358.7 459.4,1353.7 460.8,1349.0 462.2,1344.4 463.6,1342.4 465.0,1341.2 466.4,1339.9 467.8,1337.8 469.2,1336.4 470.6,1335.4 472.0,1336.7 473.4,1337.3 474.8,1338.3 476.2,1338.8 477.6,1339.8 479.0,1340.9 480.4,1341.7 481.8,1343.7 483.2,1344.7 484.6,1345.3 486.0,1347.1 487.4,1347.3 488.8,1347.6 490.2,1347.8 491.6,1347.5 493.0,1348.0 494.4,1348.6 495.8,1348.3 497.2,1348.4 498.6,1348.6 500.0,1348.9 501.4,1349.5 502.8,1350.1 504.2,1350.0 505.6,1350.2 507.0,1351.3 508.4,1351.7 509.8,1352.7 511.2,1354.0 512.6,1355.1 514.0,1355.7 515.4,1356.7 516.8,1358.2 518.2,1359.2 519.6,1359.8 521.0,1361.1 522.4,1362.1 523.8,1362.5 525.2,1362.5 526.6,1362.6 528.0,1362.7 529.4,1363.1 530.8,1363.3 532.2,1363.0 533.6,1363.4 535.0,1363.0 536.4,1362.8 537.8,1362.5 539.2,1362.3 540.6,1361.4 542.0,1361.1 543.4,1360.7 544.8,1359.9 546.2,1360.0 547.6,1359.5 549.0,1359.5 550.4,1358.9 551.8,1358.4 553.2,1358.6 554.6,1358.4 556.0,1358.9 557.4,1359.9 558.8,1360.3 560.2,1360.9 561.6,1361.9 563.0,1362.2 564.4,1363.9 565.8,1365.4 567.2,1367.1 568.6,1368.2 570.0,1369.8 571.4,1371.1 572.8,1373.1 574.2,1375.5 575.6,1376.2 577.0,1379.6 578.4,1379.6 579.8,1382.1 581.2,1384.3 582.6,1387.1 584.0,1387.2 585.4,1388.4 586.8,1393.1 588.2,1394.5 589.6,1395.5 591.0,1399.1 592.4,1397.2 593.8,1398.4 595.2,1400.5 596.6,1400.9 598.0,1403.3 599.4,1399.0 600.8,1400.7 602.2,1395.8 603.6,1403.2 605.0,1401.5 606.4,1404.0 607.8,1406.6 609.2,1403.5 610.6,1403.7 612.0,1403.9 613.4,1404.0 614.8,1405.0 616.2,1407.8 617.6,1407.0 619.0,1406.8 620.4,1406.2 621.8,1407.9 623.2,1406.9 624.6,1405.6 626.0,1406.8 627.4,1405.1 628.8,1403.1 630.2,1407.6 631.6,1405.0 633.0,1401.7 634.4,1404.7 635.8,1402.6 637.2,1398.3 638.6,1403.6 640.0,1400.4 641.4,1400.8 642.8,1398.7 644.2,1397.3 645.6,1393.9 647.0,1398.1 648.4,1395.5 649.8,1394.2 651.2,1394.7 652.6,1393.7 654.0,1394.5 655.4,1392.0 656.8,1392.2 658.2,1387.6 659.6,1390.6 661.0,1392.4 662.4,1393.3 663.8,1389.4 665.2,1389.5 666.6,1392.6 668.0,1388.5 669.4,1390.6 670.8,1392.4 672.2,1388.8 673.6,1391.2 675.0,1386.9 676.4,1388.7 677.8,1388.0 679.2,1388.3 680.6,1390.3 682.0,1392.9 683.4,1386.0 684.8,1385.9 686.2,1388.0 687.6,1384.3 689.0,1387.5 690.4,1387.4 691.8,1385.2 693.2,1386.7 694.6,1381.8 696.0,1386.7 697.4,1381.2 698.8,1382.9 700.2,1383.1 701.6,1383.3 703.0,1386.1 704.4,1384.2 705.8,1382.9 707.2,1385.0 708.6,1387.3 710.0,1383.5 711.4,1384.2 712.8,1386.1 714.2,1383.7 715.6,1380.1 717.0,1389.0 718.4,1388.4 719.8,1378.3 721.2,1383.0 722.6,1384.1 724.0,1385.4 725.4,1384.7 726.8,1382.4 728.2,1380.5 729.6,1383.5 731.0,1386.0 732.4,1381.1 733.8,1381.5 735.2,1384.3 736.6,1379.8 738.0,1384.2 739.4,1384.1 740.8,1386.6 742.2,1383.9 743.6,1383.8 745.0,1385.2 746.4,1386.2 747.8,1384.8 749.2,1386.7 750.6,1388.7 752.0,1390.0 753.4,1391.5 754.8,1385.1 756.2,1386.2 757.6,1380.9 759.0,1392.6 760.4,1385.8 761.8,1387.8 763.2,1389.4 764.6,1384.5 766.0,1389.5 767.4,1388.4 768.8,1383.6 770.2,1389.5 771.6,1392.1 773.0,1383.9 774.4,1391.4 775.8,1389.9 777.2,1390.9 778.6,1391.1 780.0,1393.8 781.4,1389.8 782.8,1393.1 784.2,1389.8 785.6,1393.3 787.0,1389.2 788.4,1391.5 789.8,1397.0 791.2,1393.6 792.6,1392.3 794.0,1389.9 795.4,1391.3 796.8,1394.6 798.2,1397.2 799.6,1396.1 801.0,1396.8 802.4,1395.6 803.8,1400.1 805.2,1395.4 806.6,1395.4 808.0,1400.1 809.4,1398.0 810.8,1397.4 812.2,1397.0 813.6,1398.4 815.0,1401.4 816.4,1401.0 817.8,1396.7 819.2,1402.1 820.6,1401.8 822.0,1398.6 823.4,1404.4 824.8,1401.6 826.2,1401.9 827.6,1405.7 829.0,1407.8 830.4,1402.0 831.8,1405.9 833.2,1402.2 834.6,1412.6 836.0,1404.2 837.4,1409.9 838.8,1404.6 840.2,1409.6 841.6,1414.5 843.0,1399.8 844.4,1406.9 845.8,1410.3 847.2,1408.8 848.6,1407.4 850.0,1416.9 851.4,1410.7 852.8,1405.5 854.2,1414.0 855.6,1406.1 857.0,1415.8 858.4,1410.6 859.8,1413.4 861.2,1417.5 862.6,1414.2 864.0,1409.6 865.4,1409.0 866.8,1419.0 868.2,1418.0 869.6,1413.2 871.0,1419.0 872.4,1418.1 873.8,1418.9 875.2,1409.4 876.6,1416.2 878.0,1420.6 879.4,1420.3 880.8,1421.1 882.2,1410.0 883.6,1419.2 885.0,1420.7 886.4,1428.3 887.8,1416.8 889.2,1419.5 890.6,1421.3 892.0,1424.8 893.4,1420.8 894.8,1426.9 896.2,1420.7 897.6,1424.9 899.0,1422.7 900.4,1425.7 901.8,1422.3 903.2,1418.7 904.6,1427.9 906.0,1424.8 907.4,1421.4 908.8,1423.7 910.2,1426.2 911.6,1418.8 913.0,1421.6 914.4,1423.6 915.8,1423.2 917.2,1419.7 918.6,1412.9 920.0,1424.8" stroke="#ff0000" stroke-width="3.4"/>
</g>
<rect x="436.4" y="1139.8" width="485.6" height="357.20000000000005" fill="none" stroke="#000" stroke-width="2.6"/>
<g stroke="#000" stroke-width="2.2">
<line x1="436.40" y1="1497.00" x2="436.40" y2="1490.00"/>
<line x1="471.09" y1="1497.00" x2="471.09" y2="1493.00"/>
<line x1="505.77" y1="1497.00" x2="505.77" y2="1490.00"/>
<line x1="540.46" y1="1497.00" x2="540.46" y2="1493.00"/>
<line x1="575.14" y1="1497.00" x2="575.14" y2="1490.00"/>
<line x1="609.83" y1="1497.00" x2="609.83" y2="1493.00"/>
<line x1="644.51" y1="1497.00" x2="644.51" y2="1490.00"/>
<line x1="679.20" y1="1497.00" x2="679.20" y2="1493.00"/>
<line x1="713.89" y1="1497.00" x2="713.89" y2="1490.00"/>
<line x1="748.57" y1="1497.00" x2="748.57" y2="1493.00"/>
<line x1="783.26" y1="1497.00" x2="783.26" y2="1490.00"/>
<line x1="817.94" y1="1497.00" x2="817.94" y2="1493.00"/>
<line x1="852.63" y1="1497.00" x2="852.63" y2="1490.00"/>
<line x1="887.31" y1="1497.00" x2="887.31" y2="1493.00"/>
<line x1="922.00" y1="1497.00" x2="922.00" y2="1490.00"/>
<line x1="906.46" y1="1139.80" x2="906.46" y2="1147.30"/>
<line x1="856.16" y1="1139.80" x2="856.16" y2="1143.80"/>
<line x1="810.89" y1="1139.80" x2="810.89" y2="1147.30"/>
<line x1="769.94" y1="1139.80" x2="769.94" y2="1143.80"/>
<line x1="732.70" y1="1139.80" x2="732.70" y2="1147.30"/>
<line x1="698.71" y1="1139.80" x2="698.71" y2="1143.80"/>
<line x1="667.55" y1="1139.80" x2="667.55" y2="1147.30"/>
<line x1="638.88" y1="1139.80" x2="638.88" y2="1143.80"/>
<line x1="612.41" y1="1139.80" x2="612.41" y2="1147.30"/>
<line x1="587.91" y1="1139.80" x2="587.91" y2="1143.80"/>
<line x1="565.15" y1="1139.80" x2="565.15" y2="1147.30"/>
<line x1="543.97" y1="1139.80" x2="543.97" y2="1143.80"/>
<line x1="524.20" y1="1139.80" x2="524.20" y2="1147.30"/>
<line x1="505.70" y1="1139.80" x2="505.70" y2="1143.80"/>
<line x1="488.36" y1="1139.80" x2="488.36" y2="1147.30"/>
<line x1="472.07" y1="1139.80" x2="472.07" y2="1143.80"/>
<line x1="456.74" y1="1139.80" x2="456.74" y2="1147.30"/>
<line x1="442.28" y1="1139.80" x2="442.28" y2="1143.80"/>
<line x1="436.40" y1="1175.00" x2="443.90" y2="1175.00"/>
<line x1="436.40" y1="1159.62" x2="440.90" y2="1159.62"/>
<line x1="436.40" y1="1150.62" x2="440.90" y2="1150.62"/>
<line x1="436.40" y1="1144.23" x2="440.90" y2="1144.23"/>
<line x1="436.40" y1="1226.10" x2="443.90" y2="1226.10"/>
<line x1="436.40" y1="1210.72" x2="440.90" y2="1210.72"/>
<line x1="436.40" y1="1201.72" x2="440.90" y2="1201.72"/>
<line x1="436.40" y1="1195.33" x2="440.90" y2="1195.33"/>
<line x1="436.40" y1="1190.38" x2="440.90" y2="1190.38"/>
<line x1="436.40" y1="1186.34" x2="440.90" y2="1186.34"/>
<line x1="436.40" y1="1182.92" x2="440.90" y2="1182.92"/>
<line x1="436.40" y1="1179.95" x2="440.90" y2="1179.95"/>
<line x1="436.40" y1="1177.34" x2="440.90" y2="1177.34"/>
<line x1="436.40" y1="1277.20" x2="443.90" y2="1277.20"/>
<line x1="436.40" y1="1261.82" x2="440.90" y2="1261.82"/>
<line x1="436.40" y1="1252.82" x2="440.90" y2="1252.82"/>
<line x1="436.40" y1="1246.43" x2="440.90" y2="1246.43"/>
<line x1="436.40" y1="1241.48" x2="440.90" y2="1241.48"/>
<line x1="436.40" y1="1237.44" x2="440.90" y2="1237.44"/>
<line x1="436.40" y1="1234.02" x2="440.90" y2="1234.02"/>
<line x1="436.40" y1="1231.05" x2="440.90" y2="1231.05"/>
<line x1="436.40" y1="1228.44" x2="440.90" y2="1228.44"/>
<line x1="436.40" y1="1328.30" x2="443.90" y2="1328.30"/>
<line x1="436.40" y1="1312.92" x2="440.90" y2="1312.92"/>
<line x1="436.40" y1="1303.92" x2="440.90" y2="1303.92"/>
<line x1="436.40" y1="1297.53" x2="440.90" y2="1297.53"/>
<line x1="436.40" y1="1292.58" x2="440.90" y2="1292.58"/>
<line x1="436.40" y1="1288.54" x2="440.90" y2="1288.54"/>
<line x1="436.40" y1="1285.12" x2="440.90" y2="1285.12"/>
<line x1="436.40" y1="1282.15" x2="440.90" y2="1282.15"/>
<line x1="436.40" y1="1279.54" x2="440.90" y2="1279.54"/>
<line x1="436.40" y1="1379.40" x2="443.90" y2="1379.40"/>
<line x1="436.40" y1="1364.02" x2="440.90" y2="1364.02"/>
<line x1="436.40" y1="1355.02" x2="440.90" y2="1355.02"/>
<line x1="436.40" y1="1348.63" x2="440.90" y2="1348.63"/>
<line x1="436.40" y1="1343.68" x2="440.90" y2="1343.68"/>
<line x1="436.40" y1="1339.64" x2="440.90" y2="1339.64"/>
<line x1="436.40" y1="1336.22" x2="440.90" y2="1336.22"/>
<line x1="436.40" y1="1333.25" x2="440.90" y2="1333.25"/>
<line x1="436.40" y1="1330.64" x2="440.90" y2="1330.64"/>
<line x1="436.40" y1="1430.50" x2="443.90" y2="1430.50"/>
<line x1="436.40" y1="1415.12" x2="440.90" y2="1415.12"/>
<line x1="436.40" y1="1406.12" x2="440.90" y2="1406.12"/>
<line x1="436.40" y1="1399.73" x2="440.90" y2="1399.73"/>
<line x1="436.40" y1="1394.78" x2="440.90" y2="1394.78"/>
<line x1="436.40" y1="1390.74" x2="440.90" y2="1390.74"/>
<line x1="436.40" y1="1387.32" x2="440.90" y2="1387.32"/>
<line x1="436.40" y1="1384.35" x2="440.90" y2="1384.35"/>
<line x1="436.40" y1="1381.74" x2="440.90" y2="1381.74"/>
<line x1="436.40" y1="1481.60" x2="443.90" y2="1481.60"/>
<line x1="436.40" y1="1466.22" x2="440.90" y2="1466.22"/>
<line x1="436.40" y1="1457.22" x2="440.90" y2="1457.22"/>
<line x1="436.40" y1="1450.83" x2="440.90" y2="1450.83"/>
<line x1="436.40" y1="1445.88" x2="440.90" y2="1445.88"/>
<line x1="436.40" y1="1441.84" x2="440.90" y2="1441.84"/>
<line x1="436.40" y1="1438.42" x2="440.90" y2="1438.42"/>
<line x1="436.40" y1="1435.45" x2="440.90" y2="1435.45"/>
<line x1="436.40" y1="1432.84" x2="440.90" y2="1432.84"/>
</g>
<text x="422.80" y="1519.40" font-family='"Liberation Sans", sans-serif' font-weight="bold" font-size="16" fill="#000" textLength="27.50" lengthAdjust="spacingAndGlyphs" >350</text>
<text x="492.24" y="1519.40" font-family='"Liberation Sans", sans-serif' font-weight="bold" font-size="16" fill="#000" textLength="27.50" lengthAdjust="spacingAndGlyphs" >400</text>
<text x="561.61" y="1519.40" font-family='"Liberation Sans", sans-serif' font-weight="bold" font-size="16" fill="#000" textLength="27.50" lengthAdjust="spacingAndGlyphs" >450</text>
<text x="630.85" y="1519.40" font-family='"Liberation Sans", sans-serif' font-weight="bold" font-size="16" fill="#000" textLength="27.50" lengthAdjust="spacingAndGlyphs" >500</text>
<text x="700.22" y="1519.40" font-family='"Liberation Sans", sans-serif' font-weight="bold" font-size="16" fill="#000" textLength="27.50" lengthAdjust="spacingAndGlyphs" >550</text>
<text x="769.55" y="1519.40" font-family='"Liberation Sans", sans-serif' font-weight="bold" font-size="16" fill="#000" textLength="27.50" lengthAdjust="spacingAndGlyphs" >600</text>
<text x="838.92" y="1519.40" font-family='"Liberation Sans", sans-serif' font-weight="bold" font-size="16" fill="#000" textLength="27.50" lengthAdjust="spacingAndGlyphs" >650</text>
<text x="908.24" y="1519.40" font-family='"Liberation Sans", sans-serif' font-weight="bold" font-size="16" fill="#000" textLength="27.50" lengthAdjust="spacingAndGlyphs" >700</text>
<text x="445.14" y="1127.40" font-family='"Liberation Sans", sans-serif' font-weight="bold" font-size="16" fill="#000" textLength="22.91" lengthAdjust="spacingAndGlyphs" >3.4</text>
<text x="477.05" y="1127.40" font-family='"Liberation Sans", sans-serif' font-weight="bold" font-size="16" fill="#000" textLength="22.91" lengthAdjust="spacingAndGlyphs" >3.2</text>
<text x="519.72" y="1127.40" font-family='"Liberation Sans", sans-serif' font-weight="bold" font-size="16" fill="#000" textLength="9.17" lengthAdjust="spacingAndGlyphs" >3</text>
<text x="553.67" y="1127.40" font-family='"Liberation Sans", sans-serif' font-weight="bold" font-size="16" fill="#000" textLength="22.91" lengthAdjust="spacingAndGlyphs" >2.8</text>
<text x="600.97" y="1127.40" font-family='"Liberation Sans", sans-serif' font-weight="bold" font-size="16" fill="#000" textLength="22.91" lengthAdjust="spacingAndGlyphs" >2.6</text>
<text x="655.85" y="1127.40" font-family='"Liberation Sans", sans-serif' font-weight="bold" font-size="16" fill="#000" textLength="22.91" lengthAdjust="spacingAndGlyphs" >2.4</text>
<text x="721.29" y="1127.40" font-family='"Liberation Sans", sans-serif' font-weight="bold" font-size="16" fill="#000" textLength="22.91" lengthAdjust="spacingAndGlyphs" >2.2</text>
<text x="806.36" y="1127.40" font-family='"Liberation Sans", sans-serif' font-weight="bold" font-size="16" fill="#000" textLength="9.17" lengthAdjust="spacingAndGlyphs" >2</text>
<text x="894.74" y="1127.40" font-family='"Liberation Sans", sans-serif' font-weight="bold" font-size="16" fill="#000" textLength="22.91" lengthAdjust="spacingAndGlyphs" >1.8</text>
<text x="613.89" y="1099.40" font-family='"Liberation Sans", sans-serif' font-weight="bold" font-size="24.5" fill="#000" textLength="133.61" lengthAdjust="spacingAndGlyphs" >Energy (eV)</text>
<text x="583.48" y="1554.80" font-family='"Liberation Sans", sans-serif' font-weight="bold" font-size="23.5" fill="#000" textLength="190.70" lengthAdjust="spacingAndGlyphs" >Wavelength (nm)</text>
<g transform="translate(411,0) rotate(-90)">
<text x="-1435.29" y="0.00" font-family='"Liberation Sans", sans-serif' font-weight="bold" font-size="24" fill="#000" textLength="203.50" lengthAdjust="spacingAndGlyphs" >CL intensity (a.u.)</text>
</g>
</svg></body></html>
